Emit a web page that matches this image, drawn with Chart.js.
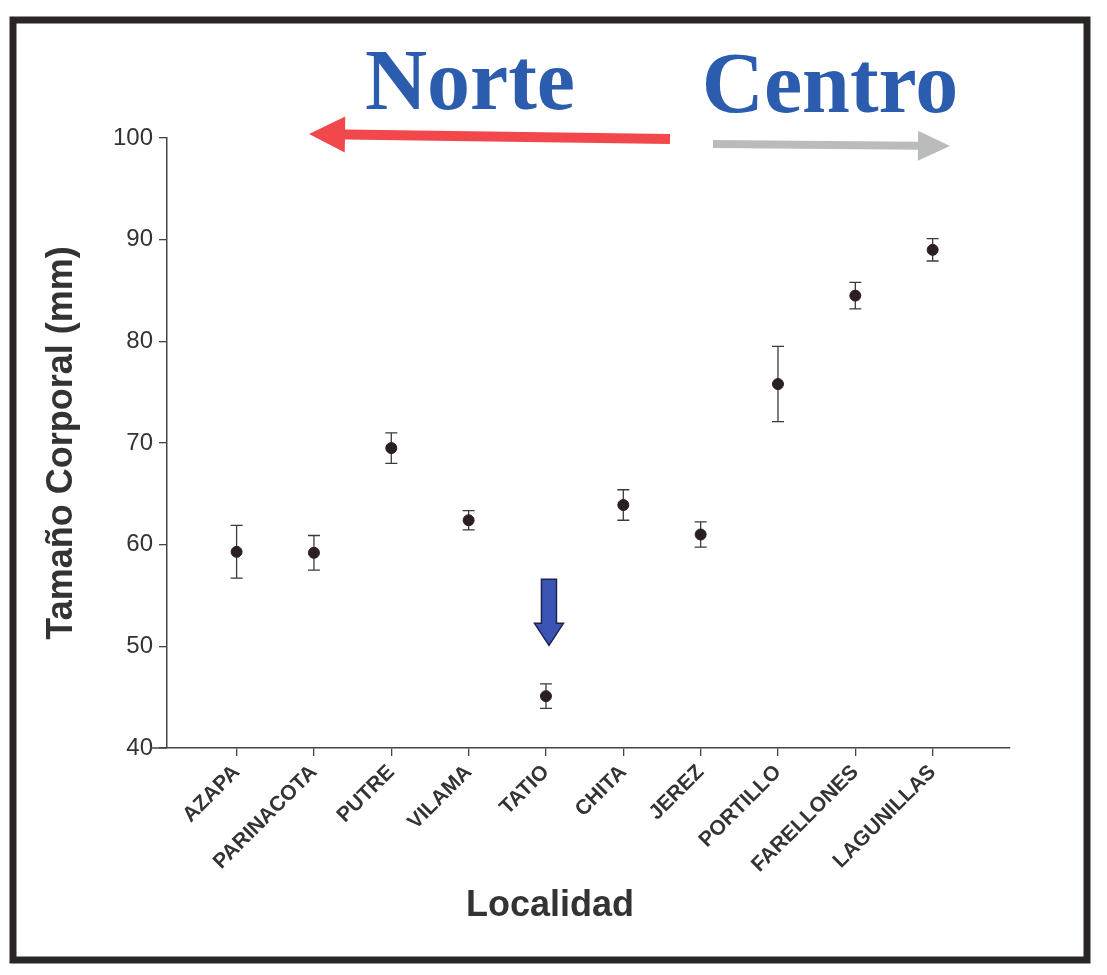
<!DOCTYPE html>
<html>
<head>
<meta charset="utf-8">
<script src="https://cdn.jsdelivr.net/npm/chart.js@4.4.0/dist/chart.umd.min.js"></script>
<style>
  html, body { margin: 0; padding: 0; background: #fff; }
  #wrap { width: 1107px; height: 975px; }
</style>
</head>
<body>
<div id="wrap"><canvas id="grafico" width="1107" height="975"></canvas></div>
<script>
// datos
var localidades = ['AZAPA', 'PARINACOTA', 'PUTRE', 'VILAMA', 'TATIO', 'CHITA', 'JEREZ', 'PORTILLO', 'FARELLONES', 'LAGUNILLAS'];
var tamanoMedio = [59.3, 59.2, 69.5, 62.4, 45.1, 63.9, 61.0, 75.8, 84.5, 89.0];
var errorBarra = [2.6, 1.7, 1.5, 0.95, 1.2, 1.5, 1.25, 3.7, 1.3, 1.1];
var ticksY = [40, 50, 60, 70, 80, 90, 100];

var puntos = tamanoMedio.map(function (v, i) { return { x: i, y: v }; });

function flecha(ctx, x1, y1, x2, y2, grosor, anchoPunta, largoPunta, color, borde) {
    var ang = Math.atan2(y2 - y1, x2 - x1);
    var largo = Math.hypot(x2 - x1, y2 - y1);
    ctx.save();
    ctx.translate(x1, y1);
    ctx.rotate(ang);
    ctx.beginPath();
    ctx.moveTo(0, -grosor / 2);
    ctx.lineTo(largo - largoPunta, -grosor / 2);
    ctx.lineTo(largo - largoPunta, -anchoPunta / 2);
    ctx.lineTo(largo, 0);
    ctx.lineTo(largo - largoPunta, anchoPunta / 2);
    ctx.lineTo(largo - largoPunta, grosor / 2);
    ctx.lineTo(0, grosor / 2);
    ctx.closePath();
    ctx.fillStyle = color;
    ctx.fill();
    if (borde) {
        ctx.strokeStyle = borde;
        ctx.lineWidth = 1.5;
        ctx.stroke();
    }
    ctx.restore();
}

var extras = {
    id: 'extras',
    beforeDatasetsDraw: function (chart) {
        var ctx = chart.ctx, sx = chart.scales.x, sy = chart.scales.y;
        ctx.save();
        ctx.strokeStyle = '#3a3a3a';
        ctx.lineWidth = 1.3;
        tamanoMedio.forEach(function (v, i) {
            var px = sx.getPixelForValue(i);
            var top = sy.getPixelForValue(v + errorBarra[i]);
            var bot = sy.getPixelForValue(v - errorBarra[i]);
            ctx.beginPath();
            ctx.moveTo(px, top); ctx.lineTo(px, bot);
            ctx.moveTo(px - 6, top); ctx.lineTo(px + 6, top);
            ctx.moveTo(px - 6, bot); ctx.lineTo(px + 6, bot);
            ctx.stroke();
        });
        ctx.restore();
    },
    afterDraw: function (chart) {
        var ctx = chart.ctx, sx = chart.scales.x, sy = chart.scales.y;
        var area = chart.chartArea;
        ctx.save();
        // prolongacion del eje x hacia la izquierda
        ctx.strokeStyle = '#444';
        ctx.lineWidth = 1.5;
        ctx.beginPath();
        ctx.moveTo(150, area.bottom);
        ctx.lineTo(area.left, area.bottom);
        ctx.stroke();

        // marco
        ctx.strokeStyle = '#2a2626';
        ctx.lineWidth = 7;
        ctx.strokeRect(13, 20, 1074, 940);

        // titulo eje x
        ctx.fillStyle = '#333';
        ctx.font = 'bold 36px "Liberation Sans", Arial, sans-serif';
        ctx.textAlign = 'center';
        ctx.textBaseline = 'middle';
        ctx.fillText('Localidad', 550, 906);

        // Norte / Centro
        ctx.fillStyle = '#2b5cae';
        ctx.font = 'bold 86px "Liberation Serif", "Times New Roman", serif';
        ctx.textBaseline = 'alphabetic';
        ctx.fillText('Norte', 470, 109);
        ctx.fillText('Centro', 830, 112);

        flecha(ctx, 670, 139, 309, 134, 10, 36, 36, '#f2484c');
        flecha(ctx, 713, 144, 950, 146, 8, 30, 32, '#b9bcbb');

        // flecha azul sobre TATIO
        var fx = sx.getPixelForValue(4) + 3;
        flecha(ctx, fx, sy.getPixelForValue(56.6), fx, sy.getPixelForValue(50.1), 15, 29, 22, '#3b55b5', '#1d2350');
        ctx.restore();
    }
};

var ctxGrafico = document.getElementById('grafico').getContext('2d');
var grafico = new Chart(ctxGrafico, {
    type: 'scatter',
    data: {
        datasets: [{
            label: 'Tamaño Corporal',
            data: puntos,
            backgroundColor: '#2b1e24',
            borderColor: '#2b1e24',
            pointRadius: 5.5,
            pointHoverRadius: 5.5
        }]
    },
    options: {
        responsive: false,
        animation: false,
        layout: { padding: { top: 138, right: 97, left: 0, bottom: 0 } },
        plugins: {
            legend: { display: false },
            tooltip: { enabled: false }
        },
        scales: {
            x: {
                type: 'linear',
                min: -0.9,
                max: 10.0,
                afterBuildTicks: function (s) {
                    s.ticks = localidades.map(function (n, i) { return { value: i }; });
                },
                afterFit: function (s) { s.height = 227; },
                ticks: {
                    autoSkip: false,
                    maxRotation: 45,
                    minRotation: 45,
                    padding: 4,
                    color: '#333',
                    font: { family: '"Liberation Sans", Arial, sans-serif', size: 21, weight: 'bold' },
                    callback: function (v) { return localidades[v]; }
                },
                grid: { drawOnChartArea: false, drawTicks: true, tickLength: 8, color: '#444', lineWidth: 1.3 },
                border: { display: true, color: '#444', width: 1.5 }
            },
            y: {
                min: 40,
                max: 100,
                afterBuildTicks: function (s) {
                    s.ticks = ticksY.map(function (v) { return { value: v }; });
                },
                afterFit: function (s) { s.width = 167; },
                ticks: {
                    padding: 6,
                    color: '#333',
                    font: { family: '"Liberation Sans", Arial, sans-serif', size: 24 }
                },
                grid: { drawOnChartArea: false, drawTicks: true, tickLength: 8, color: '#444', lineWidth: 1.3 },
                border: { display: true, color: '#444', width: 1.5 },
                title: {
                    display: true,
                    text: 'Tamaño Corporal (mm)',
                    color: '#333',
                    font: { family: '"Liberation Sans", Arial, sans-serif', size: 36, weight: 'bold' },
                    padding: { top: 40, bottom: 0 }
                }
            }
        }
    },
    plugins: [extras]
});
</script>
</body>
</html>
